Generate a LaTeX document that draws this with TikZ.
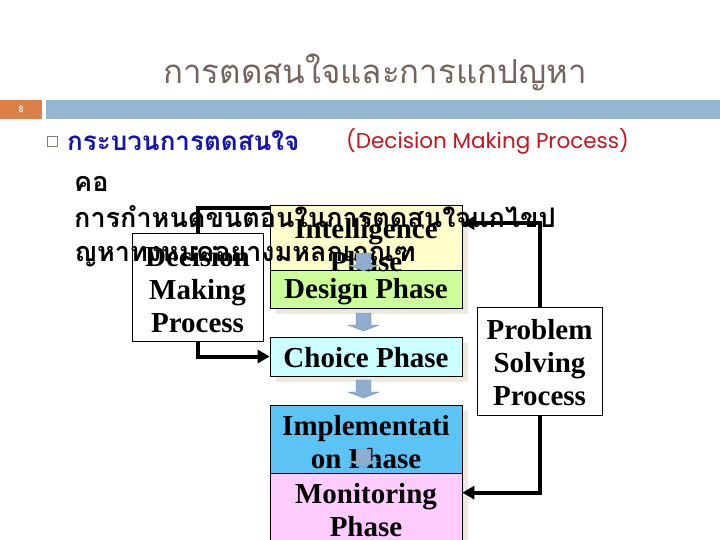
\documentclass[tikz,border=0pt]{standalone}
\usepackage{fontspec}
\setmainfont{Liberation Serif}
\newfontfamily\thai[Script=Thai]{Loma}
\newfontfamily\gothic{Poppins}
\usetikzlibrary{arrows.meta,calc,shadows}
\definecolor{titlec}{HTML}{74645E}
\definecolor{orangec}{HTML}{DD8047}
\definecolor{barc}{HTML}{94B6D2}
\definecolor{bulletc}{HTML}{8C7B70}
\definecolor{bluec}{HTML}{1414B4}
\definecolor{redc}{HTML}{C8141E}
\definecolor{intelc}{HTML}{FFFFCC}
\definecolor{designc}{HTML}{CCFF99}
\definecolor{choicec}{HTML}{CCFFFF}
\definecolor{implc}{HTML}{5CC3F5}
\definecolor{monc}{HTML}{FFCCFF}
\definecolor{shadc}{HTML}{EEE9DF}
\definecolor{arrowc}{HTML}{8FADCF}
\definecolor{arrowd}{HTML}{6F8DB2}
\tikzset{
  phasebox/.style={draw=black, line width=0.7pt, minimum width=192, inner sep=0,
    drop shadow={shadow xshift=6pt, shadow yshift=-6pt, opacity=1, fill=shadc}},
  plainbox/.style={draw=black, line width=0.7pt, fill=white, inner sep=0},
  boxtext/.style={font=\bfseries\fontsize{29}{33}\selectfont, align=center, inner sep=0},
  thaibody/.style={font=\thai\bfseries\fontsize{27}{32}\selectfont, inner sep=0, anchor=west},
  conn/.style={line width=4pt, draw=black},
  tip/.style={-{Triangle[length=12pt,width=13pt]}},
  blockarrow/.style={fill=arrowc, draw=arrowd, line width=0.4pt}
}
\begin{document}
\begin{tikzpicture}[x=1pt,y=-1pt]
\useasboundingbox (0,0) rectangle (720,540);
\fill[white] (0,0) rectangle (720,540);

% title and header bar
\node[font=\thai\fontsize{33}{38}\selectfont, text=titlec, inner sep=0] (title) at (375,72) {การตดสนใจและการแกปญหา};
\node[fill=orangec, minimum width=42, minimum height=19, inner sep=0, anchor=north west,
  font=\sffamily\bfseries\fontsize{9}{10}\selectfont, text=white] (pg) at (0,100) {8};
\node[fill=barc, minimum width=674, minimum height=19, inner sep=0, anchor=north west] (bar) at (46,100) {};

% bullet line
\node[draw=bulletc, minimum size=10, inner sep=0, line width=0.6pt] (bul) at (52,141) {};
\node[anchor=west, font=\thai\bfseries\fontsize{26}{30}\selectfont, text=bluec, inner sep=0] (head) at (67,141) {กระบวนการตดสนใจ};
\node[anchor=west, font=\gothic\fontsize{21.5}{25}\selectfont, text=redc, inner sep=0] (headen) at (346,141) {(Decision Making Process)};

% boxes
\node[plainbox, minimum width=131, minimum height=108] (dec) at (197.5,287) {};
\draw[conn] (dec.north) |- (270,208);

\node[phasebox, fill=intelc, minimum height=65] (intel) at (366,237.5) {};
\node[phasebox, fill=designc, minimum height=38] (design) at (366,289) {};
\node[phasebox, fill=choicec, minimum height=39] (choice) at (366,356.5) {};
\node[phasebox, fill=implc, minimum height=68] (impl) at (366,439) {};
\node[phasebox, fill=monc, minimum height=75] (mon) at (366,510.5) {};
\node[plainbox, minimum width=125, minimum height=108] (prob) at (539.5,361) {};

% box texts
\node[boxtext] (dect) at (197.5,290) {Decision\\Making\\Process};
\node[boxtext] (intelt) at (366,245) {Intelligence\\Phase};
\node[boxtext] (designt) at (366,292) {Design Phase};
\node[boxtext] (choicet) at (366,358) {Choice Phase};
\node[boxtext] (implt) at (366,442.5) {Implementati\\on Phase};
\node[boxtext] (mont) at (366,510.5) {Monitoring\\Phase};
\node[boxtext] (probt) at (539.5,363) {Problem\\Solving\\Process};

% thai body text
\node[thaibody] (l0) at (74,184) {คอ};
\node[thaibody] (l1) at (74,217) {การกำหนดขนตอนในการตดสนใจแกไขป};
\node[thaibody] (l2) at (74,257) {ญหาทงหมดอยางมหลกเกณฑ};

% connectors
\draw[conn, tip] (dec.south) |- (choice.west);
\draw[conn, tip] (prob.north) |- ($(intel.north east)!0.28!(intel.south east)$);
\draw[conn, tip] (prob.south) |- ($(mon.north east)+(0,20)$);

% small block arrows
\foreach \yy/\nm in {253/a1, 313/a2, 380/a3, 449/a4} {
  \draw[blockarrow] (356,\yy) -- (371,\yy) -- (371,\yy+12) -- (379,\yy+12) -- (363.5,\yy+18)
    -- (348,\yy+12) -- (356,\yy+12) -- cycle;
}
\end{tikzpicture}
\end{document}
